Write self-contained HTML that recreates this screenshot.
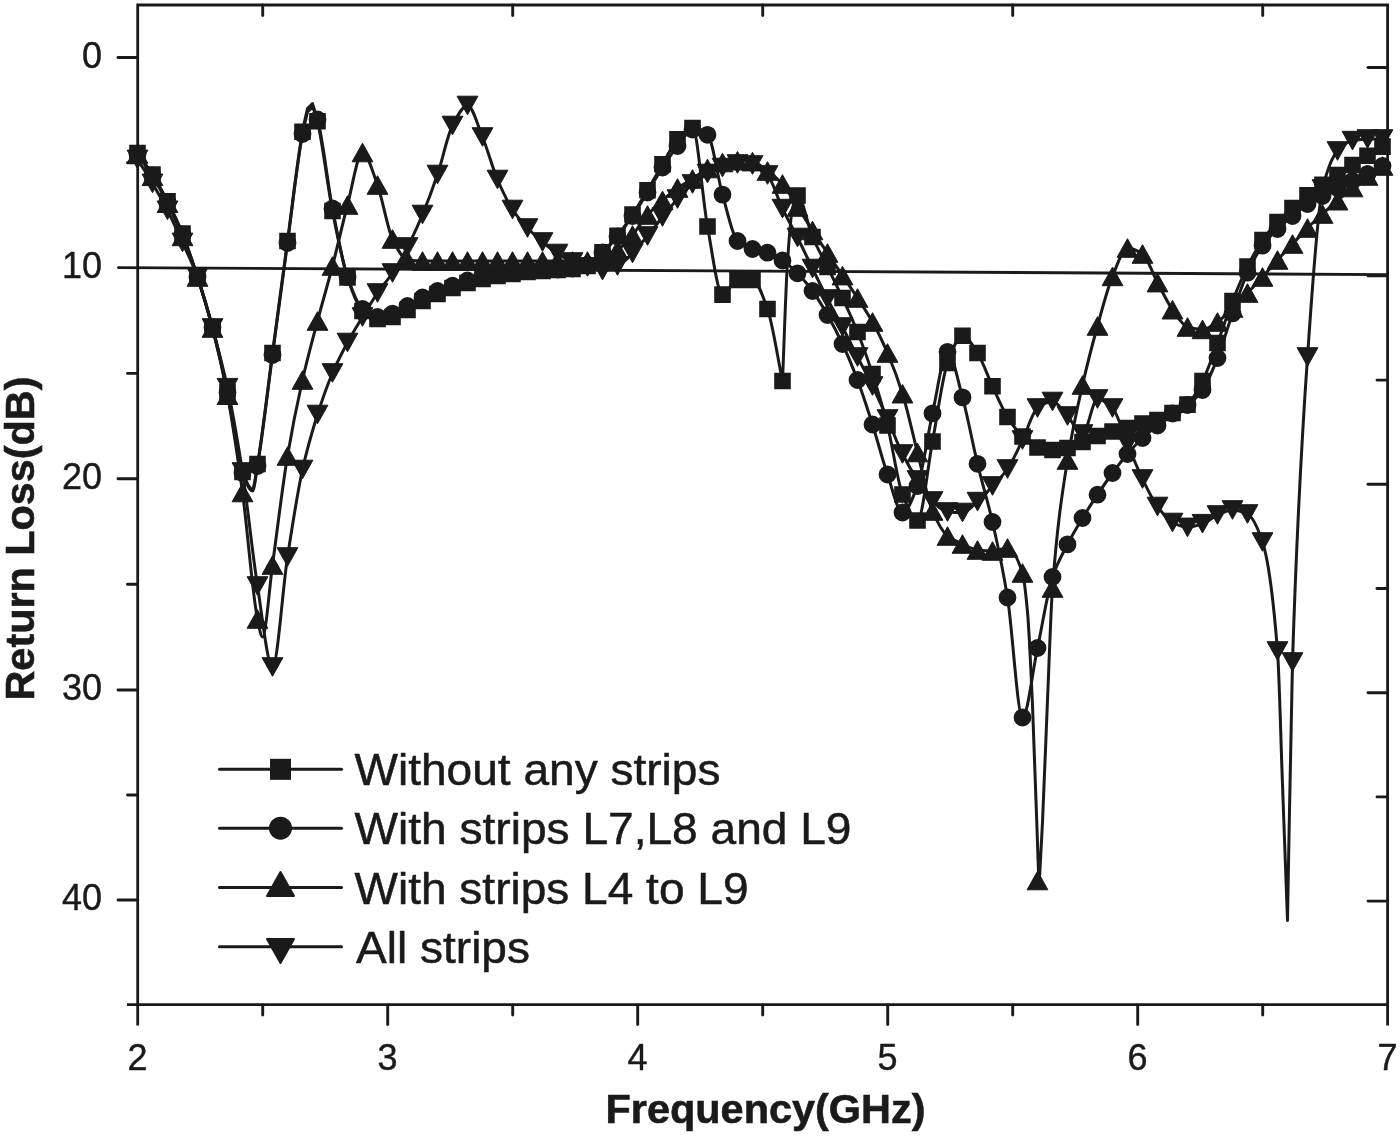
<!DOCTYPE html>
<html><head><meta charset="utf-8"><title>Return Loss vs Frequency</title>
<style>html,body{margin:0;padding:0;background:#fff}body{width:1400px;height:1136px;position:relative;overflow:hidden}</style></head>
<body>
<svg width="1400" height="1136" viewBox="0 0 1400 1136" style="display:block;position:absolute;left:0;top:0">
<rect width="1400" height="1136" fill="#fff"/>
<g stroke="#1a1a1a" stroke-width="2.8" fill="none" stroke-linecap="butt">
<path d="M137.7 1025.5V5H1387.6V1025.5"/>
<path d="M127 1004.6H1387.6"/>
</g>
<g stroke="#1a1a1a" stroke-width="2.9" fill="none" stroke-linecap="round">
<path d="M118 57.5H137"/>
<path d="M118 478.8H137"/>
<path d="M118 690.0H137"/>
<path d="M118 900.0H137"/>
<path d="M127.5 162.7H137"/>
<path d="M127.5 373.4H137"/>
<path d="M127.5 584.3H137"/>
<path d="M127.5 795.0H137"/>
<path d="M1368 67.5H1387"/>
<path d="M1368 275.9H1387"/>
<path d="M1368 484.3H1387"/>
<path d="M1368 692.7H1387"/>
<path d="M1368 901.1H1387"/>
<path d="M1377 171.7H1387"/>
<path d="M1377 380.1H1387"/>
<path d="M1377 588.5H1387"/>
<path d="M1377 796.9H1387"/>
<path d="M262.7 1005V1015"/>
<path d="M262.7 5V15.5"/>
<path d="M387.7 1005V1024.5"/>
<path d="M512.7 1005V1015"/>
<path d="M512.7 5V15.5"/>
<path d="M637.7 1005V1024.5"/>
<path d="M762.7 1005V1015"/>
<path d="M762.7 5V15.5"/>
<path d="M887.7 1005V1024.5"/>
<path d="M1012.7 1005V1015"/>
<path d="M1012.7 5V15.5"/>
<path d="M1137.7 1005V1024.5"/>
<path d="M1262.7 1005V1015"/>
<path d="M1262.7 5V15.5"/>
<path d="M118.5 267.6L1387 274.6"/>
</g>
<path d="M137.5 153.0C142.5 160.2 147.5 166.6 152.5 174.6C157.5 182.6 162.5 191.6 167.5 201.3C172.5 211.0 177.5 221.2 182.5 233.5C187.5 245.8 192.5 261.4 197.5 277.0C202.5 292.6 207.5 308.6 212.5 327.5C217.5 346.4 222.5 368.2 227.5 392.0C232.5 415.8 237.5 459.5 242.5 472.0C245.8 480.3 249.2 489.0 252.5 489.0C254.2 489.0 255.8 473.6 257.5 464.0C262.5 435.1 267.5 390.2 272.5 353.0C277.5 315.8 282.5 277.9 287.5 241.0C292.5 204.1 297.5 159.2 302.5 131.8C304.2 122.7 305.8 116.3 307.5 108.5L312.5 103.6C314.2 109.5 315.8 114.1 317.5 121.2C322.5 142.4 327.5 185.5 332.5 211.0C337.5 236.5 342.5 262.6 347.5 277.5C352.5 292.4 357.5 306.7 362.5 311.0C367.5 315.3 372.5 319.0 377.5 319.0C382.5 319.0 387.5 318.0 392.5 317.0C397.5 316.0 402.5 312.6 407.5 310.0C412.5 307.4 417.5 303.6 422.5 301.0C427.5 298.4 432.5 296.2 437.5 294.0C442.5 291.8 447.5 289.8 452.5 288.0C457.5 286.2 462.5 284.5 467.5 283.0C472.5 281.5 477.5 280.1 482.5 279.0C487.5 277.9 492.5 276.8 497.5 276.0C502.5 275.2 507.5 274.7 512.5 274.0C517.5 273.3 522.5 272.4 527.5 272.0C532.5 271.6 537.5 271.3 542.5 271.0C547.5 270.7 552.5 270.3 557.5 270.0C562.5 269.7 567.5 269.5 572.5 269.0C577.5 268.5 582.5 267.6 587.5 266.0C592.5 264.4 597.5 257.3 602.5 252.3C607.5 247.3 612.5 242.0 617.5 235.8C622.5 229.6 627.5 222.1 632.5 214.5C637.5 206.9 642.5 198.7 647.5 190.3C652.5 181.9 657.5 172.8 662.5 164.3C667.5 155.8 672.5 144.5 677.5 139.3C682.5 134.1 687.5 128.0 692.5 128.0C697.5 128.0 702.5 199.7 707.5 226.5C712.5 253.3 717.5 294.6 722.5 294.6C727.5 294.6 732.5 280.0 737.5 280.0C742.5 280.0 747.5 280.0 752.5 280.0C757.5 280.0 762.5 295.2 767.5 309.0C772.5 322.8 777.5 357.0 782.5 381.0C784.2 341.3 785.8 286.8 787.5 262.0C789.2 237.2 790.8 214.8 792.5 208.0C794.2 201.2 795.8 195.5 797.5 195.5C802.5 195.5 807.5 225.4 812.5 237.0C817.5 248.6 822.5 256.8 827.5 267.0C832.5 277.2 837.5 287.2 842.5 298.0C847.5 308.8 852.5 319.5 857.5 332.0C862.5 344.5 867.5 358.6 872.5 374.0C877.5 389.4 882.5 405.8 887.5 425.5C892.5 445.2 897.5 481.9 902.5 494.5C907.5 507.1 912.5 520.5 917.5 520.5C922.5 520.5 927.5 467.7 932.5 441.5C937.5 415.3 942.5 376.5 947.5 363.0C952.5 349.5 957.5 335.7 962.5 335.7C967.5 335.7 972.5 345.4 977.5 353.0C982.5 360.6 987.5 375.7 992.5 386.3C997.5 396.9 1002.5 409.0 1007.5 417.0C1012.5 425.0 1017.5 431.8 1022.5 436.5C1027.5 441.2 1032.5 446.1 1037.5 447.5C1042.5 448.9 1047.5 450.0 1052.5 450.0C1057.5 450.0 1062.5 449.0 1067.5 448.0C1072.5 447.0 1077.5 444.0 1082.5 442.0C1087.5 440.0 1092.5 437.7 1097.5 436.0C1102.5 434.3 1107.5 432.8 1112.5 431.5C1117.5 430.2 1122.5 429.3 1127.5 428.0C1132.5 426.7 1137.5 424.8 1142.5 423.5C1147.5 422.2 1152.5 421.6 1157.5 420.0C1162.5 418.4 1167.5 415.5 1172.5 413.0C1177.5 410.5 1182.5 408.7 1187.5 404.6C1192.5 400.5 1197.5 390.7 1202.5 381.0C1207.5 371.3 1212.5 356.3 1217.5 343.0C1222.5 329.7 1227.5 313.6 1232.5 301.0C1237.5 288.4 1242.5 276.6 1247.5 266.6C1252.5 256.6 1257.5 247.2 1262.5 240.0C1267.5 232.8 1272.5 227.2 1277.5 222.0C1282.5 216.8 1287.5 212.4 1292.5 208.0C1297.5 203.6 1302.5 199.2 1307.5 195.4C1312.5 191.6 1317.5 188.2 1322.5 184.8C1327.5 181.4 1332.5 178.3 1337.5 175.0C1342.5 171.7 1347.5 168.2 1352.5 165.0C1357.5 161.8 1362.5 158.9 1367.5 155.8C1372.5 152.7 1377.5 149.7 1382.5 146.6" fill="none" stroke="#1a1a1a" stroke-width="3.0" stroke-linejoin="round"/>
<path d="M129.2 144.7h16.6v16.6h-16.6zM144.2 166.3h16.6v16.6h-16.6zM159.2 193.0h16.6v16.6h-16.6zM174.2 225.2h16.6v16.6h-16.6zM189.2 268.7h16.6v16.6h-16.6zM204.2 319.2h16.6v16.6h-16.6zM219.2 383.7h16.6v16.6h-16.6zM234.2 463.7h16.6v16.6h-16.6zM249.2 455.7h16.6v16.6h-16.6zM264.2 344.7h16.6v16.6h-16.6zM279.2 232.7h16.6v16.6h-16.6zM294.2 123.5h16.6v16.6h-16.6zM309.2 112.9h16.6v16.6h-16.6zM324.2 202.7h16.6v16.6h-16.6zM339.2 269.2h16.6v16.6h-16.6zM354.2 302.7h16.6v16.6h-16.6zM369.2 310.7h16.6v16.6h-16.6zM384.2 308.7h16.6v16.6h-16.6zM399.2 301.7h16.6v16.6h-16.6zM414.2 292.7h16.6v16.6h-16.6zM429.2 285.7h16.6v16.6h-16.6zM444.2 279.7h16.6v16.6h-16.6zM459.2 274.7h16.6v16.6h-16.6zM474.2 270.7h16.6v16.6h-16.6zM489.2 267.7h16.6v16.6h-16.6zM504.2 265.7h16.6v16.6h-16.6zM519.2 263.7h16.6v16.6h-16.6zM534.2 262.7h16.6v16.6h-16.6zM549.2 261.7h16.6v16.6h-16.6zM564.2 260.7h16.6v16.6h-16.6zM579.2 257.7h16.6v16.6h-16.6zM594.2 244.0h16.6v16.6h-16.6zM609.2 227.5h16.6v16.6h-16.6zM624.2 206.2h16.6v16.6h-16.6zM639.2 182.0h16.6v16.6h-16.6zM654.2 156.0h16.6v16.6h-16.6zM669.2 131.0h16.6v16.6h-16.6zM684.2 119.7h16.6v16.6h-16.6zM699.2 218.2h16.6v16.6h-16.6zM714.2 286.3h16.6v16.6h-16.6zM729.2 271.7h16.6v16.6h-16.6zM744.2 271.7h16.6v16.6h-16.6zM759.2 300.7h16.6v16.6h-16.6zM774.2 372.7h16.6v16.6h-16.6zM789.2 187.2h16.6v16.6h-16.6zM804.2 228.7h16.6v16.6h-16.6zM819.2 258.7h16.6v16.6h-16.6zM834.2 289.7h16.6v16.6h-16.6zM849.2 323.7h16.6v16.6h-16.6zM864.2 365.7h16.6v16.6h-16.6zM879.2 417.2h16.6v16.6h-16.6zM894.2 486.2h16.6v16.6h-16.6zM909.2 512.2h16.6v16.6h-16.6zM924.2 433.2h16.6v16.6h-16.6zM939.2 354.7h16.6v16.6h-16.6zM954.2 327.4h16.6v16.6h-16.6zM969.2 344.7h16.6v16.6h-16.6zM984.2 378.0h16.6v16.6h-16.6zM999.2 408.7h16.6v16.6h-16.6zM1014.2 428.2h16.6v16.6h-16.6zM1029.2 439.2h16.6v16.6h-16.6zM1044.2 441.7h16.6v16.6h-16.6zM1059.2 439.7h16.6v16.6h-16.6zM1074.2 433.7h16.6v16.6h-16.6zM1089.2 427.7h16.6v16.6h-16.6zM1104.2 423.2h16.6v16.6h-16.6zM1119.2 419.7h16.6v16.6h-16.6zM1134.2 415.2h16.6v16.6h-16.6zM1149.2 411.7h16.6v16.6h-16.6zM1164.2 404.7h16.6v16.6h-16.6zM1179.2 396.3h16.6v16.6h-16.6zM1194.2 372.7h16.6v16.6h-16.6zM1209.2 334.7h16.6v16.6h-16.6zM1224.2 292.7h16.6v16.6h-16.6zM1239.2 258.3h16.6v16.6h-16.6zM1254.2 231.7h16.6v16.6h-16.6zM1269.2 213.7h16.6v16.6h-16.6zM1284.2 199.7h16.6v16.6h-16.6zM1299.2 187.1h16.6v16.6h-16.6zM1314.2 176.5h16.6v16.6h-16.6zM1329.2 166.7h16.6v16.6h-16.6zM1344.2 156.7h16.6v16.6h-16.6zM1359.2 147.5h16.6v16.6h-16.6zM1374.2 138.3h16.6v16.6h-16.6z" fill="#1a1a1a"/>
<path d="M137.5 154.0C142.5 161.2 147.5 167.6 152.5 175.5C157.5 183.4 162.5 192.3 167.5 202.0C172.5 211.7 177.5 222.2 182.5 234.5C187.5 246.8 192.5 261.6 197.5 277.0C202.5 292.4 207.5 308.6 212.5 327.5C217.5 346.4 222.5 368.5 227.5 392.5C232.5 416.5 237.5 460.0 242.5 473.0C245.8 481.7 249.2 491.0 252.5 491.0C254.2 491.0 255.8 475.6 257.5 466.0C262.5 437.1 267.5 392.2 272.5 355.0C277.5 317.8 282.5 279.8 287.5 243.0C292.5 206.2 297.5 160.3 302.5 134.0C304.2 125.2 305.8 119.3 307.5 112.0L312.5 107.0C314.2 111.2 315.8 114.0 317.5 119.5C322.5 136.0 327.5 182.7 332.5 208.5C337.5 234.3 342.5 262.5 347.5 277.0C352.5 291.5 357.5 304.7 362.5 309.0C367.5 313.3 372.5 317.0 377.5 317.0C382.5 317.0 387.5 315.2 392.5 313.6C397.5 312.0 402.5 308.7 407.5 306.0C412.5 303.3 417.5 300.0 422.5 297.5C427.5 295.0 432.5 292.9 437.5 291.0C442.5 289.1 447.5 287.4 452.5 285.7C457.5 284.0 462.5 282.0 467.5 280.5C472.5 279.0 477.5 277.6 482.5 276.5C487.5 275.4 492.5 274.3 497.5 273.5C502.5 272.7 507.5 271.9 512.5 271.5C517.5 271.1 522.5 270.7 527.5 270.5C532.5 270.3 537.5 270.2 542.5 270.0C547.5 269.8 552.5 269.7 557.5 269.5C562.5 269.3 567.5 269.0 572.5 268.5C577.5 268.0 582.5 266.8 587.5 265.0C592.5 263.2 597.5 257.2 602.5 252.5C607.5 247.8 612.5 242.5 617.5 236.5C622.5 230.5 627.5 223.3 632.5 216.0C637.5 208.7 642.5 200.6 647.5 192.5C652.5 184.4 657.5 175.2 662.5 167.5C667.5 159.8 672.5 152.2 677.5 146.0C682.5 139.8 687.5 129.5 692.5 129.5C697.5 129.5 702.5 131.6 707.5 134.8C712.5 138.0 717.5 177.2 722.5 194.6C727.5 212.0 732.5 236.5 737.5 241.0C742.5 245.5 747.5 247.3 752.5 249.0C757.5 250.7 762.5 251.0 767.5 252.7C772.5 254.4 777.5 257.3 782.5 260.5C787.5 263.7 792.5 268.3 797.5 273.3C802.5 278.3 807.5 284.2 812.5 291.0C817.5 297.8 822.5 306.2 827.5 315.0C832.5 323.8 837.5 333.3 842.5 344.0C847.5 354.7 852.5 366.7 857.5 380.0C862.5 393.3 867.5 408.8 872.5 424.5C877.5 440.2 882.5 460.1 887.5 474.5C892.5 488.9 897.5 512.5 902.5 512.5C907.5 512.5 912.5 498.9 917.5 486.0C922.5 473.1 927.5 435.6 932.5 413.4C937.5 391.2 942.5 351.8 947.5 351.8C952.5 351.8 957.5 379.4 962.5 397.4C967.5 415.4 972.5 443.1 977.5 463.8C982.5 484.5 987.5 500.1 992.5 522.0C997.5 543.9 1002.5 566.6 1007.5 597.5C1012.5 628.4 1017.5 717.5 1022.5 717.5C1027.5 717.5 1032.5 671.4 1037.5 648.0C1042.5 624.6 1047.5 591.9 1052.5 577.0C1057.5 562.1 1062.5 554.1 1067.5 544.4C1072.5 534.7 1077.5 526.3 1082.5 518.0C1087.5 509.7 1092.5 502.2 1097.5 494.7C1102.5 487.2 1107.5 479.8 1112.5 473.0C1117.5 466.2 1122.5 459.8 1127.5 454.0C1132.5 448.2 1137.5 442.7 1142.5 438.0C1147.5 433.3 1152.5 429.6 1157.5 425.5C1162.5 421.4 1167.5 416.8 1172.5 413.5C1177.5 410.2 1182.5 408.6 1187.5 405.0C1192.5 401.4 1197.5 396.8 1202.5 390.0C1207.5 383.2 1212.5 370.4 1217.5 358.0C1222.5 345.6 1227.5 327.6 1232.5 313.4C1237.5 299.2 1242.5 283.5 1247.5 272.7C1252.5 261.9 1257.5 252.5 1262.5 245.6C1267.5 238.7 1272.5 233.9 1277.5 229.0C1282.5 224.1 1287.5 220.2 1292.5 216.0C1297.5 211.8 1302.5 207.2 1307.5 204.0C1312.5 200.8 1317.5 198.7 1322.5 196.0C1327.5 193.3 1332.5 190.5 1337.5 188.0C1342.5 185.5 1347.5 183.3 1352.5 181.0C1357.5 178.7 1362.5 176.5 1367.5 174.0C1372.5 171.5 1377.5 168.7 1382.5 166.0" fill="none" stroke="#1a1a1a" stroke-width="3.0" stroke-linejoin="round"/>
<path d="M128.6 154.0a8.9 8.9 0 1 0 17.8 0a8.9 8.9 0 1 0 -17.8 0zM143.6 175.5a8.9 8.9 0 1 0 17.8 0a8.9 8.9 0 1 0 -17.8 0zM158.6 202.0a8.9 8.9 0 1 0 17.8 0a8.9 8.9 0 1 0 -17.8 0zM173.6 234.5a8.9 8.9 0 1 0 17.8 0a8.9 8.9 0 1 0 -17.8 0zM188.6 277.0a8.9 8.9 0 1 0 17.8 0a8.9 8.9 0 1 0 -17.8 0zM203.6 327.5a8.9 8.9 0 1 0 17.8 0a8.9 8.9 0 1 0 -17.8 0zM218.6 392.5a8.9 8.9 0 1 0 17.8 0a8.9 8.9 0 1 0 -17.8 0zM233.6 473.0a8.9 8.9 0 1 0 17.8 0a8.9 8.9 0 1 0 -17.8 0zM248.6 466.0a8.9 8.9 0 1 0 17.8 0a8.9 8.9 0 1 0 -17.8 0zM263.6 355.0a8.9 8.9 0 1 0 17.8 0a8.9 8.9 0 1 0 -17.8 0zM278.6 243.0a8.9 8.9 0 1 0 17.8 0a8.9 8.9 0 1 0 -17.8 0zM293.6 134.0a8.9 8.9 0 1 0 17.8 0a8.9 8.9 0 1 0 -17.8 0zM308.6 119.5a8.9 8.9 0 1 0 17.8 0a8.9 8.9 0 1 0 -17.8 0zM323.6 208.5a8.9 8.9 0 1 0 17.8 0a8.9 8.9 0 1 0 -17.8 0zM338.6 277.0a8.9 8.9 0 1 0 17.8 0a8.9 8.9 0 1 0 -17.8 0zM353.6 309.0a8.9 8.9 0 1 0 17.8 0a8.9 8.9 0 1 0 -17.8 0zM368.6 317.0a8.9 8.9 0 1 0 17.8 0a8.9 8.9 0 1 0 -17.8 0zM383.6 313.6a8.9 8.9 0 1 0 17.8 0a8.9 8.9 0 1 0 -17.8 0zM398.6 306.0a8.9 8.9 0 1 0 17.8 0a8.9 8.9 0 1 0 -17.8 0zM413.6 297.5a8.9 8.9 0 1 0 17.8 0a8.9 8.9 0 1 0 -17.8 0zM428.6 291.0a8.9 8.9 0 1 0 17.8 0a8.9 8.9 0 1 0 -17.8 0zM443.6 285.7a8.9 8.9 0 1 0 17.8 0a8.9 8.9 0 1 0 -17.8 0zM458.6 280.5a8.9 8.9 0 1 0 17.8 0a8.9 8.9 0 1 0 -17.8 0zM473.6 276.5a8.9 8.9 0 1 0 17.8 0a8.9 8.9 0 1 0 -17.8 0zM488.6 273.5a8.9 8.9 0 1 0 17.8 0a8.9 8.9 0 1 0 -17.8 0zM503.6 271.5a8.9 8.9 0 1 0 17.8 0a8.9 8.9 0 1 0 -17.8 0zM518.6 270.5a8.9 8.9 0 1 0 17.8 0a8.9 8.9 0 1 0 -17.8 0zM533.6 270.0a8.9 8.9 0 1 0 17.8 0a8.9 8.9 0 1 0 -17.8 0zM548.6 269.5a8.9 8.9 0 1 0 17.8 0a8.9 8.9 0 1 0 -17.8 0zM563.6 268.5a8.9 8.9 0 1 0 17.8 0a8.9 8.9 0 1 0 -17.8 0zM578.6 265.0a8.9 8.9 0 1 0 17.8 0a8.9 8.9 0 1 0 -17.8 0zM593.6 252.5a8.9 8.9 0 1 0 17.8 0a8.9 8.9 0 1 0 -17.8 0zM608.6 236.5a8.9 8.9 0 1 0 17.8 0a8.9 8.9 0 1 0 -17.8 0zM623.6 216.0a8.9 8.9 0 1 0 17.8 0a8.9 8.9 0 1 0 -17.8 0zM638.6 192.5a8.9 8.9 0 1 0 17.8 0a8.9 8.9 0 1 0 -17.8 0zM653.6 167.5a8.9 8.9 0 1 0 17.8 0a8.9 8.9 0 1 0 -17.8 0zM668.6 146.0a8.9 8.9 0 1 0 17.8 0a8.9 8.9 0 1 0 -17.8 0zM683.6 129.5a8.9 8.9 0 1 0 17.8 0a8.9 8.9 0 1 0 -17.8 0zM698.6 134.8a8.9 8.9 0 1 0 17.8 0a8.9 8.9 0 1 0 -17.8 0zM713.6 194.6a8.9 8.9 0 1 0 17.8 0a8.9 8.9 0 1 0 -17.8 0zM728.6 241.0a8.9 8.9 0 1 0 17.8 0a8.9 8.9 0 1 0 -17.8 0zM743.6 249.0a8.9 8.9 0 1 0 17.8 0a8.9 8.9 0 1 0 -17.8 0zM758.6 252.7a8.9 8.9 0 1 0 17.8 0a8.9 8.9 0 1 0 -17.8 0zM773.6 260.5a8.9 8.9 0 1 0 17.8 0a8.9 8.9 0 1 0 -17.8 0zM788.6 273.3a8.9 8.9 0 1 0 17.8 0a8.9 8.9 0 1 0 -17.8 0zM803.6 291.0a8.9 8.9 0 1 0 17.8 0a8.9 8.9 0 1 0 -17.8 0zM818.6 315.0a8.9 8.9 0 1 0 17.8 0a8.9 8.9 0 1 0 -17.8 0zM833.6 344.0a8.9 8.9 0 1 0 17.8 0a8.9 8.9 0 1 0 -17.8 0zM848.6 380.0a8.9 8.9 0 1 0 17.8 0a8.9 8.9 0 1 0 -17.8 0zM863.6 424.5a8.9 8.9 0 1 0 17.8 0a8.9 8.9 0 1 0 -17.8 0zM878.6 474.5a8.9 8.9 0 1 0 17.8 0a8.9 8.9 0 1 0 -17.8 0zM893.6 512.5a8.9 8.9 0 1 0 17.8 0a8.9 8.9 0 1 0 -17.8 0zM908.6 486.0a8.9 8.9 0 1 0 17.8 0a8.9 8.9 0 1 0 -17.8 0zM923.6 413.4a8.9 8.9 0 1 0 17.8 0a8.9 8.9 0 1 0 -17.8 0zM938.6 351.8a8.9 8.9 0 1 0 17.8 0a8.9 8.9 0 1 0 -17.8 0zM953.6 397.4a8.9 8.9 0 1 0 17.8 0a8.9 8.9 0 1 0 -17.8 0zM968.6 463.8a8.9 8.9 0 1 0 17.8 0a8.9 8.9 0 1 0 -17.8 0zM983.6 522.0a8.9 8.9 0 1 0 17.8 0a8.9 8.9 0 1 0 -17.8 0zM998.6 597.5a8.9 8.9 0 1 0 17.8 0a8.9 8.9 0 1 0 -17.8 0zM1013.6 717.5a8.9 8.9 0 1 0 17.8 0a8.9 8.9 0 1 0 -17.8 0zM1028.6 648.0a8.9 8.9 0 1 0 17.8 0a8.9 8.9 0 1 0 -17.8 0zM1043.6 577.0a8.9 8.9 0 1 0 17.8 0a8.9 8.9 0 1 0 -17.8 0zM1058.6 544.4a8.9 8.9 0 1 0 17.8 0a8.9 8.9 0 1 0 -17.8 0zM1073.6 518.0a8.9 8.9 0 1 0 17.8 0a8.9 8.9 0 1 0 -17.8 0zM1088.6 494.7a8.9 8.9 0 1 0 17.8 0a8.9 8.9 0 1 0 -17.8 0zM1103.6 473.0a8.9 8.9 0 1 0 17.8 0a8.9 8.9 0 1 0 -17.8 0zM1118.6 454.0a8.9 8.9 0 1 0 17.8 0a8.9 8.9 0 1 0 -17.8 0zM1133.6 438.0a8.9 8.9 0 1 0 17.8 0a8.9 8.9 0 1 0 -17.8 0zM1148.6 425.5a8.9 8.9 0 1 0 17.8 0a8.9 8.9 0 1 0 -17.8 0zM1163.6 413.5a8.9 8.9 0 1 0 17.8 0a8.9 8.9 0 1 0 -17.8 0zM1178.6 405.0a8.9 8.9 0 1 0 17.8 0a8.9 8.9 0 1 0 -17.8 0zM1193.6 390.0a8.9 8.9 0 1 0 17.8 0a8.9 8.9 0 1 0 -17.8 0zM1208.6 358.0a8.9 8.9 0 1 0 17.8 0a8.9 8.9 0 1 0 -17.8 0zM1223.6 313.4a8.9 8.9 0 1 0 17.8 0a8.9 8.9 0 1 0 -17.8 0zM1238.6 272.7a8.9 8.9 0 1 0 17.8 0a8.9 8.9 0 1 0 -17.8 0zM1253.6 245.6a8.9 8.9 0 1 0 17.8 0a8.9 8.9 0 1 0 -17.8 0zM1268.6 229.0a8.9 8.9 0 1 0 17.8 0a8.9 8.9 0 1 0 -17.8 0zM1283.6 216.0a8.9 8.9 0 1 0 17.8 0a8.9 8.9 0 1 0 -17.8 0zM1298.6 204.0a8.9 8.9 0 1 0 17.8 0a8.9 8.9 0 1 0 -17.8 0zM1313.6 196.0a8.9 8.9 0 1 0 17.8 0a8.9 8.9 0 1 0 -17.8 0zM1328.6 188.0a8.9 8.9 0 1 0 17.8 0a8.9 8.9 0 1 0 -17.8 0zM1343.6 181.0a8.9 8.9 0 1 0 17.8 0a8.9 8.9 0 1 0 -17.8 0zM1358.6 174.0a8.9 8.9 0 1 0 17.8 0a8.9 8.9 0 1 0 -17.8 0zM1373.6 166.0a8.9 8.9 0 1 0 17.8 0a8.9 8.9 0 1 0 -17.8 0z" fill="#1a1a1a"/>
<path d="M137.5 154.0C142.5 161.4 147.5 168.2 152.5 176.3C157.5 184.4 162.5 193.3 167.5 203.2C172.5 213.1 177.5 224.2 182.5 236.4C187.5 248.6 192.5 261.9 197.5 277.0C202.5 292.1 207.5 308.7 212.5 328.0C217.5 347.3 222.5 368.7 227.5 395.2C232.5 421.7 237.5 455.8 242.5 492.5C247.5 529.2 252.5 595.4 257.5 619.0C259.2 626.9 260.8 637.0 262.5 637.0C265.8 637.0 269.2 589.1 272.5 565.0C277.5 528.8 282.5 485.9 287.5 456.0C292.5 426.1 297.5 402.1 302.5 380.0C307.5 357.9 312.5 340.0 317.5 321.0C322.5 302.0 327.5 285.3 332.5 266.0C337.5 246.7 342.5 223.8 347.5 205.0C352.5 186.2 357.5 152.5 362.5 152.5C367.5 152.5 372.5 171.5 377.5 185.0C382.5 198.5 387.5 228.9 392.5 239.0C397.5 249.1 402.5 259.4 407.5 260.0C412.5 260.6 417.5 261.0 422.5 261.0C427.5 261.0 432.5 261.0 437.5 261.0C442.5 261.0 447.5 261.0 452.5 261.0C457.5 261.0 462.5 261.0 467.5 261.0C472.5 261.0 477.5 261.0 482.5 261.0C487.5 261.0 492.5 261.0 497.5 261.0C502.5 261.0 507.5 261.0 512.5 261.0C517.5 261.0 522.5 261.0 527.5 261.0C532.5 261.0 537.5 261.0 542.5 261.0C547.5 261.0 552.5 261.0 557.5 261.0C562.5 261.0 567.5 261.0 572.5 261.0C577.5 261.0 582.5 261.0 587.5 261.0C592.5 261.0 597.5 259.5 602.5 258.0C607.5 256.5 612.5 253.5 617.5 250.0C622.5 246.5 627.5 240.7 632.5 235.0C637.5 229.3 642.5 220.6 647.5 215.0C652.5 209.4 657.5 204.9 662.5 200.4C667.5 195.9 672.5 191.5 677.5 188.0C682.5 184.5 687.5 182.2 692.5 179.0C697.5 175.8 702.5 171.0 707.5 168.5C712.5 166.0 717.5 163.4 722.5 162.5C727.5 161.6 732.5 160.7 737.5 160.7C742.5 160.7 747.5 161.1 752.5 161.6C757.5 162.1 762.5 167.4 767.5 171.0C772.5 174.6 777.5 178.5 782.5 184.0C787.5 189.5 792.5 199.3 797.5 207.0C802.5 214.7 807.5 222.8 812.5 230.5C817.5 238.2 822.5 245.5 827.5 253.0C832.5 260.5 837.5 268.1 842.5 275.6C847.5 283.1 852.5 290.3 857.5 298.0C862.5 305.7 867.5 313.0 872.5 322.0C877.5 331.0 882.5 341.3 887.5 353.0C892.5 364.7 897.5 377.7 902.5 393.7C907.5 409.7 912.5 433.0 917.5 452.5C922.5 472.0 927.5 499.3 932.5 511.0C937.5 522.7 942.5 532.0 947.5 536.0C952.5 540.0 957.5 541.7 962.5 544.0C967.5 546.3 972.5 549.4 977.5 550.0C982.5 550.6 987.5 551.0 992.5 551.0C997.5 551.0 1002.5 548.0 1007.5 548.0C1012.5 548.0 1017.5 557.6 1022.5 573.0C1024.2 578.1 1025.8 593.7 1027.5 612.0C1029.2 630.3 1030.8 668.1 1032.5 705.0C1034.7 753.0 1036.8 826.3 1039.0 887.0C1040.2 865.3 1041.3 846.4 1042.5 822.0C1044.2 787.1 1045.8 738.9 1047.5 700.0C1049.2 661.1 1050.8 610.3 1052.5 588.0C1057.5 521.2 1062.5 491.5 1067.5 460.0C1072.5 428.5 1077.5 407.0 1082.5 385.0C1087.5 363.0 1092.5 344.0 1097.5 326.0C1102.5 308.0 1107.5 288.4 1112.5 276.4C1117.5 264.4 1122.5 248.0 1127.5 248.0C1132.5 248.0 1137.5 250.7 1142.5 254.0C1147.5 257.3 1152.5 273.3 1157.5 282.6C1162.5 291.9 1167.5 302.7 1172.5 309.7C1177.5 316.7 1182.5 325.6 1187.5 327.0C1192.5 328.4 1197.5 329.4 1202.5 329.4C1207.5 329.4 1212.5 325.2 1217.5 322.0C1222.5 318.8 1227.5 312.8 1232.5 308.0C1237.5 303.2 1242.5 298.2 1247.5 293.0C1252.5 287.8 1257.5 282.5 1262.5 277.0C1267.5 271.5 1272.5 265.5 1277.5 260.0C1282.5 254.5 1287.5 249.3 1292.5 244.0C1297.5 238.7 1302.5 233.0 1307.5 228.0C1312.5 223.0 1317.5 218.5 1322.5 214.0C1327.5 209.5 1332.5 205.1 1337.5 200.7C1342.5 196.3 1347.5 191.6 1352.5 187.5C1357.5 183.4 1362.5 179.6 1367.5 176.0C1372.5 172.4 1377.5 169.3 1382.5 166.0" fill="none" stroke="#1a1a1a" stroke-width="3.0" stroke-linejoin="round"/>
<path d="M137.5 144.7l10.4 18.6h-20.8zM152.5 167.0l10.4 18.6h-20.8zM167.5 193.9l10.4 18.6h-20.8zM182.5 227.1l10.4 18.6h-20.8zM197.5 267.7l10.4 18.6h-20.8zM212.5 318.7l10.4 18.6h-20.8zM227.5 385.9l10.4 18.6h-20.8zM242.5 483.2l10.4 18.6h-20.8zM257.5 609.7l10.4 18.6h-20.8zM272.5 555.7l10.4 18.6h-20.8zM287.5 446.7l10.4 18.6h-20.8zM302.5 370.7l10.4 18.6h-20.8zM317.5 311.7l10.4 18.6h-20.8zM332.5 256.7l10.4 18.6h-20.8zM347.5 195.7l10.4 18.6h-20.8zM362.5 143.2l10.4 18.6h-20.8zM377.5 175.7l10.4 18.6h-20.8zM392.5 229.7l10.4 18.6h-20.8zM407.5 250.7l10.4 18.6h-20.8zM422.5 251.7l10.4 18.6h-20.8zM437.5 251.7l10.4 18.6h-20.8zM452.5 251.7l10.4 18.6h-20.8zM467.5 251.7l10.4 18.6h-20.8zM482.5 251.7l10.4 18.6h-20.8zM497.5 251.7l10.4 18.6h-20.8zM512.5 251.7l10.4 18.6h-20.8zM527.5 251.7l10.4 18.6h-20.8zM542.5 251.7l10.4 18.6h-20.8zM557.5 251.7l10.4 18.6h-20.8zM572.5 251.7l10.4 18.6h-20.8zM587.5 251.7l10.4 18.6h-20.8zM602.5 248.7l10.4 18.6h-20.8zM617.5 240.7l10.4 18.6h-20.8zM632.5 225.7l10.4 18.6h-20.8zM647.5 205.7l10.4 18.6h-20.8zM662.5 191.1l10.4 18.6h-20.8zM677.5 178.7l10.4 18.6h-20.8zM692.5 169.7l10.4 18.6h-20.8zM707.5 159.2l10.4 18.6h-20.8zM722.5 153.2l10.4 18.6h-20.8zM737.5 151.4l10.4 18.6h-20.8zM752.5 152.3l10.4 18.6h-20.8zM767.5 161.7l10.4 18.6h-20.8zM782.5 174.7l10.4 18.6h-20.8zM797.5 197.7l10.4 18.6h-20.8zM812.5 221.2l10.4 18.6h-20.8zM827.5 243.7l10.4 18.6h-20.8zM842.5 266.3l10.4 18.6h-20.8zM857.5 288.7l10.4 18.6h-20.8zM872.5 312.7l10.4 18.6h-20.8zM887.5 343.7l10.4 18.6h-20.8zM902.5 384.4l10.4 18.6h-20.8zM917.5 443.2l10.4 18.6h-20.8zM932.5 501.7l10.4 18.6h-20.8zM947.5 526.7l10.4 18.6h-20.8zM962.5 534.7l10.4 18.6h-20.8zM977.5 540.7l10.4 18.6h-20.8zM992.5 541.7l10.4 18.6h-20.8zM1007.5 538.7l10.4 18.6h-20.8zM1022.5 563.7l10.4 18.6h-20.8zM1037.5 871.2l10.4 18.6h-20.8zM1052.5 578.7l10.4 18.6h-20.8zM1067.5 450.7l10.4 18.6h-20.8zM1082.5 375.7l10.4 18.6h-20.8zM1097.5 316.7l10.4 18.6h-20.8zM1112.5 267.1l10.4 18.6h-20.8zM1127.5 238.7l10.4 18.6h-20.8zM1142.5 244.7l10.4 18.6h-20.8zM1157.5 273.3l10.4 18.6h-20.8zM1172.5 300.4l10.4 18.6h-20.8zM1187.5 317.7l10.4 18.6h-20.8zM1202.5 320.1l10.4 18.6h-20.8zM1217.5 312.7l10.4 18.6h-20.8zM1232.5 298.7l10.4 18.6h-20.8zM1247.5 283.7l10.4 18.6h-20.8zM1262.5 267.7l10.4 18.6h-20.8zM1277.5 250.7l10.4 18.6h-20.8zM1292.5 234.7l10.4 18.6h-20.8zM1307.5 218.7l10.4 18.6h-20.8zM1322.5 204.7l10.4 18.6h-20.8zM1337.5 191.4l10.4 18.6h-20.8zM1352.5 178.2l10.4 18.6h-20.8zM1367.5 166.7l10.4 18.6h-20.8zM1382.5 156.7l10.4 18.6h-20.8z" fill="#1a1a1a" stroke="#1a1a1a" stroke-width="1" stroke-linejoin="round"/>
<path d="M137.5 159.4C142.5 167.4 147.5 174.9 152.5 183.4C157.5 191.9 162.5 200.5 167.5 210.3C172.5 220.1 177.5 231.3 182.5 242.4C187.5 253.5 192.5 263.3 197.5 277.0C202.5 290.7 207.5 309.7 212.5 328.0C217.5 346.3 222.5 364.4 227.5 387.7C232.5 411.0 237.5 439.7 242.5 472.0C247.5 504.3 252.5 554.4 257.5 586.0C262.5 617.6 267.5 667.0 272.5 667.0C277.5 667.0 282.5 589.5 287.5 557.0C292.5 524.5 297.5 492.0 302.5 469.5C307.5 447.0 312.5 430.3 317.5 414.5C322.5 398.7 327.5 384.7 332.5 373.0C337.5 361.3 342.5 351.8 347.5 342.5C352.5 333.2 357.5 325.2 362.5 317.0C367.5 308.8 372.5 300.3 377.5 293.0C382.5 285.7 387.5 280.5 392.5 273.0C397.5 265.5 402.5 256.6 407.5 247.0C412.5 237.4 417.5 226.5 422.5 214.5C427.5 202.5 432.5 189.2 437.5 174.5C442.5 159.8 447.5 135.0 452.5 125.5C457.5 116.0 462.5 105.5 467.5 105.5C472.5 105.5 477.5 124.9 482.5 137.0C487.5 149.1 492.5 167.8 497.5 179.5C502.5 191.2 507.5 201.9 512.5 209.5C517.5 217.1 522.5 222.7 527.5 228.0C532.5 233.3 537.5 237.8 542.5 242.0C547.5 246.2 552.5 250.2 557.5 253.5C562.5 256.8 567.5 259.9 572.5 262.0C577.5 264.1 582.5 265.6 587.5 267.0C592.5 268.4 597.5 270.6 602.5 270.6C607.5 270.6 612.5 268.2 617.5 266.0C622.5 263.8 627.5 258.3 632.5 253.4C637.5 248.5 642.5 242.1 647.5 236.0C652.5 229.9 657.5 223.2 662.5 217.0C667.5 210.8 672.5 204.5 677.5 199.0C682.5 193.5 687.5 188.1 692.5 184.0C697.5 179.9 702.5 176.0 707.5 173.5C712.5 171.0 717.5 169.0 722.5 167.5C727.5 166.0 732.5 164.0 737.5 164.0C742.5 164.0 747.5 164.4 752.5 165.0C757.5 165.6 762.5 169.9 767.5 175.0C772.5 180.1 777.5 198.2 782.5 208.6C787.5 219.0 792.5 227.5 797.5 237.5C802.5 247.5 807.5 258.3 812.5 268.5C817.5 278.7 822.5 289.3 827.5 299.0C832.5 308.7 837.5 317.3 842.5 327.0C847.5 336.7 852.5 347.2 857.5 357.0C862.5 366.8 867.5 375.7 872.5 386.0C877.5 396.3 882.5 407.7 887.5 419.0C892.5 430.3 897.5 444.1 902.5 454.0C907.5 463.9 912.5 472.3 917.5 480.0C922.5 487.7 927.5 496.2 932.5 501.0C937.5 505.8 942.5 511.7 947.5 512.0C952.5 512.3 957.5 512.5 962.5 512.5C967.5 512.5 972.5 505.9 977.5 501.6C982.5 497.3 987.5 491.4 992.5 486.0C997.5 480.6 1002.5 476.1 1007.5 469.0C1012.5 461.9 1017.5 450.1 1022.5 440.0C1027.5 429.9 1032.5 411.6 1037.5 408.0C1042.5 404.4 1047.5 401.5 1052.5 401.5C1057.5 401.5 1062.5 410.6 1067.5 416.0C1072.5 421.4 1077.5 434.0 1082.5 434.0C1087.5 434.0 1092.5 399.0 1097.5 399.0C1102.5 399.0 1107.5 403.2 1112.5 408.0C1117.5 412.8 1122.5 432.2 1127.5 444.0C1132.5 455.8 1137.5 468.7 1142.5 479.0C1147.5 489.3 1152.5 499.8 1157.5 506.5C1162.5 513.2 1167.5 520.0 1172.5 522.5C1177.5 525.0 1182.5 527.4 1187.5 527.4C1192.5 527.4 1197.5 525.4 1202.5 523.7C1207.5 522.0 1212.5 517.1 1217.5 515.0C1222.5 512.9 1227.5 510.0 1232.5 510.0C1237.5 510.0 1242.5 511.7 1247.5 514.0C1252.5 516.3 1257.5 527.1 1262.5 542.0C1267.5 556.9 1272.5 587.9 1277.5 651.0C1279.2 672.0 1280.8 739.6 1282.5 784.5C1284.2 829.4 1285.8 875.2 1287.5 920.5C1289.2 834.3 1290.8 714.5 1292.5 662.0C1297.5 504.6 1302.5 429.2 1307.5 357.0C1312.5 284.8 1317.5 209.7 1322.5 189.0C1327.5 168.3 1332.5 156.4 1337.5 151.0C1342.5 145.6 1347.5 141.5 1352.5 140.6C1357.5 139.7 1362.5 139.0 1367.5 139.0C1372.5 139.0 1377.5 139.0 1382.5 139.0" fill="none" stroke="#1a1a1a" stroke-width="3.0" stroke-linejoin="round"/>
<path d="M137.5 168.7l10.4 -18.6h-20.8zM152.5 192.7l10.4 -18.6h-20.8zM167.5 219.6l10.4 -18.6h-20.8zM182.5 251.7l10.4 -18.6h-20.8zM197.5 286.3l10.4 -18.6h-20.8zM212.5 337.3l10.4 -18.6h-20.8zM227.5 397.0l10.4 -18.6h-20.8zM242.5 481.3l10.4 -18.6h-20.8zM257.5 595.3l10.4 -18.6h-20.8zM272.5 676.3l10.4 -18.6h-20.8zM287.5 566.3l10.4 -18.6h-20.8zM302.5 478.8l10.4 -18.6h-20.8zM317.5 423.8l10.4 -18.6h-20.8zM332.5 382.3l10.4 -18.6h-20.8zM347.5 351.8l10.4 -18.6h-20.8zM362.5 326.3l10.4 -18.6h-20.8zM377.5 302.3l10.4 -18.6h-20.8zM392.5 282.3l10.4 -18.6h-20.8zM407.5 256.3l10.4 -18.6h-20.8zM422.5 223.8l10.4 -18.6h-20.8zM437.5 183.8l10.4 -18.6h-20.8zM452.5 134.8l10.4 -18.6h-20.8zM467.5 114.8l10.4 -18.6h-20.8zM482.5 146.3l10.4 -18.6h-20.8zM497.5 188.8l10.4 -18.6h-20.8zM512.5 218.8l10.4 -18.6h-20.8zM527.5 237.3l10.4 -18.6h-20.8zM542.5 251.3l10.4 -18.6h-20.8zM557.5 262.8l10.4 -18.6h-20.8zM572.5 271.3l10.4 -18.6h-20.8zM587.5 276.3l10.4 -18.6h-20.8zM602.5 279.9l10.4 -18.6h-20.8zM617.5 275.3l10.4 -18.6h-20.8zM632.5 262.7l10.4 -18.6h-20.8zM647.5 245.3l10.4 -18.6h-20.8zM662.5 226.3l10.4 -18.6h-20.8zM677.5 208.3l10.4 -18.6h-20.8zM692.5 193.3l10.4 -18.6h-20.8zM707.5 182.8l10.4 -18.6h-20.8zM722.5 176.8l10.4 -18.6h-20.8zM737.5 173.3l10.4 -18.6h-20.8zM752.5 174.3l10.4 -18.6h-20.8zM767.5 184.3l10.4 -18.6h-20.8zM782.5 217.9l10.4 -18.6h-20.8zM797.5 246.8l10.4 -18.6h-20.8zM812.5 277.8l10.4 -18.6h-20.8zM827.5 308.3l10.4 -18.6h-20.8zM842.5 336.3l10.4 -18.6h-20.8zM857.5 366.3l10.4 -18.6h-20.8zM872.5 395.3l10.4 -18.6h-20.8zM887.5 428.3l10.4 -18.6h-20.8zM902.5 463.3l10.4 -18.6h-20.8zM917.5 489.3l10.4 -18.6h-20.8zM932.5 510.3l10.4 -18.6h-20.8zM947.5 521.3l10.4 -18.6h-20.8zM962.5 521.8l10.4 -18.6h-20.8zM977.5 510.9l10.4 -18.6h-20.8zM992.5 495.3l10.4 -18.6h-20.8zM1007.5 478.3l10.4 -18.6h-20.8zM1022.5 449.3l10.4 -18.6h-20.8zM1037.5 417.3l10.4 -18.6h-20.8zM1052.5 410.8l10.4 -18.6h-20.8zM1067.5 425.3l10.4 -18.6h-20.8zM1082.5 443.3l10.4 -18.6h-20.8zM1097.5 408.3l10.4 -18.6h-20.8zM1112.5 417.3l10.4 -18.6h-20.8zM1127.5 453.3l10.4 -18.6h-20.8zM1142.5 488.3l10.4 -18.6h-20.8zM1157.5 515.8l10.4 -18.6h-20.8zM1172.5 531.8l10.4 -18.6h-20.8zM1187.5 536.7l10.4 -18.6h-20.8zM1202.5 533.0l10.4 -18.6h-20.8zM1217.5 524.3l10.4 -18.6h-20.8zM1232.5 519.3l10.4 -18.6h-20.8zM1247.5 523.3l10.4 -18.6h-20.8zM1262.5 551.3l10.4 -18.6h-20.8zM1277.5 660.3l10.4 -18.6h-20.8zM1292.5 671.3l10.4 -18.6h-20.8zM1307.5 366.3l10.4 -18.6h-20.8zM1322.5 198.3l10.4 -18.6h-20.8zM1337.5 160.3l10.4 -18.6h-20.8zM1352.5 149.9l10.4 -18.6h-20.8zM1367.5 148.3l10.4 -18.6h-20.8zM1382.5 148.3l10.4 -18.6h-20.8z" fill="#1a1a1a" stroke="#1a1a1a" stroke-width="1" stroke-linejoin="round"/>
<g stroke="#1a1a1a" stroke-width="3" stroke-linecap="round">
<path d="M219.5 769.3H341.5"/>
<path d="M219.5 828.2H341.5"/>
<path d="M219.5 887.4H341.5"/>
<path d="M219.5 946.8H341.5"/>
</g>
<rect x="270" y="758.8" width="21" height="21" fill="#1a1a1a"/>
<circle cx="280.5" cy="828.2" r="11.5" fill="#1a1a1a"/>
<path d="M280.5 872L294 896H267Z" fill="#1a1a1a" stroke="#1a1a1a" stroke-width="2" stroke-linejoin="round"/>
<path d="M280.5 963L294 939H267Z" fill="#1a1a1a" stroke="#1a1a1a" stroke-width="2" stroke-linejoin="round"/>
<g font-family="Liberation Sans, Arial, Helvetica, sans-serif" fill="#1a1a1a">
<text x="354.5" y="785.3" font-size="44" stroke="#1a1a1a" stroke-width="0.5" textLength="366" lengthAdjust="spacingAndGlyphs">Without any strips</text>
<text x="354.5" y="844.4" font-size="44" stroke="#1a1a1a" stroke-width="0.5" textLength="497" lengthAdjust="spacingAndGlyphs">With strips L7,L8 and L9</text>
<text x="354.5" y="903.6" font-size="44" stroke="#1a1a1a" stroke-width="0.5" textLength="394" lengthAdjust="spacingAndGlyphs">With strips L4 to L9</text>
<text x="356.0" y="962.7" font-size="44" stroke="#1a1a1a" stroke-width="0.5" textLength="174" lengthAdjust="spacingAndGlyphs">All strips</text>
<text x="102" y="67.9" font-size="36" stroke="#1a1a1a" stroke-width="0.4" text-anchor="end">0</text>
<text x="102" y="278.4" font-size="36" stroke="#1a1a1a" stroke-width="0.4" text-anchor="end">10</text>
<text x="102" y="489.2" font-size="36" stroke="#1a1a1a" stroke-width="0.4" text-anchor="end">20</text>
<text x="102" y="700.4" font-size="36" stroke="#1a1a1a" stroke-width="0.4" text-anchor="end">30</text>
<text x="102" y="910.4" font-size="36" stroke="#1a1a1a" stroke-width="0.4" text-anchor="end">40</text>
<text x="137.5" y="1069.6" font-size="36" stroke="#1a1a1a" stroke-width="0.4" text-anchor="middle">2</text>
<text x="387.5" y="1069.6" font-size="36" stroke="#1a1a1a" stroke-width="0.4" text-anchor="middle">3</text>
<text x="637.5" y="1069.6" font-size="36" stroke="#1a1a1a" stroke-width="0.4" text-anchor="middle">4</text>
<text x="887.5" y="1069.6" font-size="36" stroke="#1a1a1a" stroke-width="0.4" text-anchor="middle">5</text>
<text x="1137.5" y="1069.6" font-size="36" stroke="#1a1a1a" stroke-width="0.4" text-anchor="middle">6</text>
<text x="1387.5" y="1069.6" font-size="36" stroke="#1a1a1a" stroke-width="0.4" text-anchor="middle">7</text>
<text x="605.5" y="1123" font-size="41" font-weight="bold" stroke="#1a1a1a" stroke-width="0.6" textLength="320" lengthAdjust="spacingAndGlyphs">Frequency(GHz)</text>
<text transform="translate(34 700.5) rotate(-90)" font-size="41" font-weight="bold" stroke="#1a1a1a" stroke-width="0.6" textLength="324" lengthAdjust="spacingAndGlyphs">Return Loss(dB)</text>
</g>
</svg>
</body></html>
